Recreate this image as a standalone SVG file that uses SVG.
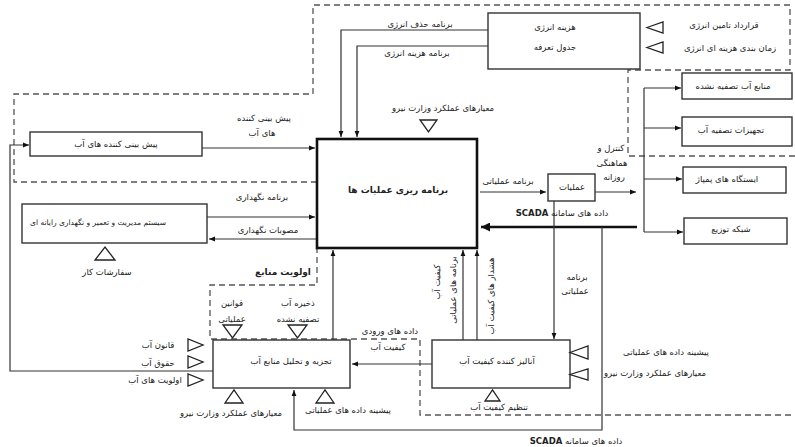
<svg xmlns="http://www.w3.org/2000/svg" width="795" height="447" viewBox="0 0 795 447">
<defs>
<marker id="ah" viewBox="0 0 10 10" refX="10" refY="5" markerWidth="6" markerHeight="6" orient="auto" markerUnits="userSpaceOnUse">
<path d="M0,1 L10,5 L0,9 Z" fill="#111"/>
</marker>
<marker id="ahb" viewBox="0 0 10 10" refX="10" refY="5" markerWidth="11" markerHeight="9" orient="auto" markerUnits="userSpaceOnUse">
<path d="M0,0 L10,5 L0,10 Z" fill="#111"/>
</marker>
<style>
text{font-family:"DejaVu Sans",sans-serif;font-size:8.5px;fill:#222;text-anchor:middle;direction:rtl}
.box{fill:#fff;stroke:#333;stroke-width:1.4}
.main{fill:#fff;stroke:#111;stroke-width:2.6}
.ln{fill:none;stroke:#333;stroke-width:1.2}
.thk{fill:none;stroke:#111;stroke-width:2.6}
.dash{fill:none;stroke:#555;stroke-width:1.3;stroke-dasharray:6 4}
.tri{fill:#fff;stroke:#222;stroke-width:1.3}
.b{font-weight:bold;font-size:9px}
.sm{font-size:7.5px}
.bs{font-weight:bold}
</style>
</defs>
<rect width="795" height="447" fill="#fff"/>
<g id="regions">
<path class="dash" d="M317,182 L14,182 L14,94 L313,94 L313,5 L790,5 L790,70 L628,70 L628,156 L795,156"/>
<path class="dash" d="M317,247 L317,285 L210,285 L210,339 L420,339 L420,415 L795,415"/>
</g>
<g id="connectors">
<path class="ln" d="M488,30 L341,30 L341,137" marker-end="url(#ah)"/>
<path class="ln" d="M488,46 L357,46 L357,137" marker-end="url(#ah)"/>
<path class="ln" d="M202,148 L315,148" marker-end="url(#ah)"/>
<path class="ln" d="M207,217 L315,217" marker-end="url(#ah)"/>
<path class="ln" d="M317,239 L209,239" marker-end="url(#ah)"/>
<path class="ln" d="M480,192 L546,192" marker-end="url(#ah)"/>
<path class="ln" d="M595,192 L636,192" marker-end="url(#ah)"/>
<path class="ln" d="M644,88 L644,232"/>
<path class="ln" d="M644,88 L681,88" marker-end="url(#ah)"/>
<path class="ln" d="M644,128 L681,128" marker-end="url(#ah)"/>
<path class="ln" d="M644,179 L682,179" marker-end="url(#ah)"/>
<path class="ln" d="M644,232 L683,232" marker-end="url(#ah)"/>
<path class="thk" d="M637,227 L481,227" marker-end="url(#ahb)"/>
<path class="ln" d="M602,227 L602,430 L294,430 L294,390" marker-end="url(#ah)"/>
<path class="ln" d="M554,201 L554,339" marker-end="url(#ah)"/>
<path class="ln" d="M463,340 L463,250" marker-end="url(#ah)"/>
<path class="ln" d="M477,340 L477,250" marker-end="url(#ah)"/>
<path class="ln" d="M333,340 L333,250" marker-end="url(#ah)"/>
<path class="ln" d="M432,364 L352,364" marker-end="url(#ah)"/>
<path class="ln" d="M213,371 L10,371 L10,145 L29,145" marker-end="url(#ah)"/>
</g>
<g id="n-planning">
<rect class="main" x="317" y="139" width="160" height="109"/>
<text class="b" x="398" y="193">برنامه ریزی عملیات ها</text>
</g>
<g id="n-energy">
<rect class="box" x="488" y="13" width="152" height="56"/>
<text x="555" y="30">هزینه انرژی</text>
<text x="555" y="50">جدول تعرفه</text>
</g>
<g id="n-forecast">
<rect class="box" x="30" y="132" width="172" height="24"/>
<text x="116" y="147">پیش بینی کننده های آب</text>
</g>
<g id="n-cmms">
<rect class="box" x="22" y="204" width="185" height="39"/>
<text class="sm" x="98" y="225">سیستم مدیریت و تعمیر و نگهداری رایانه ای</text>
</g>
<g id="n-ops">
<rect class="box" x="548" y="174" width="47" height="27"/>
<text x="572" y="190">عملیات</text>
</g>
<g id="n-raw">
<rect class="box" x="682" y="73" width="110" height="26"/>
<text x="733" y="89">منابع آب تصفیه نشده</text>
</g>
<g id="n-treat">
<rect class="box" x="682" y="117" width="110" height="29"/>
<text x="731" y="133">تجهیزات تصفیه آب</text>
</g>
<g id="n-pump">
<rect class="box" x="683" y="167" width="103" height="26"/>
<text x="727" y="182">ایستگاه های پمپاژ</text>
</g>
<g id="n-dist">
<rect class="box" x="684" y="218" width="103" height="26"/>
<text x="731" y="232">شبکه توزیع</text>
</g>
<g id="n-analysis">
<rect class="box" x="213" y="340" width="137" height="48"/>
<text x="291" y="364">تجزیه و تحلیل منابع آب</text>
</g>
<g id="n-quality">
<rect class="box" x="432" y="340" width="138" height="48"/>
<text x="497" y="364">آنالیز کننده کیفیت آب</text>
</g>
<g id="controls">
<polygon class="tri" points="647,27.5 663,22 663,33"/>
<polygon class="tri" points="647,47.5 663,42 663,53"/>
<polygon class="tri" points="420,120 437,120 428.5,132"/>
<polygon class="tri" points="95,260 115,260 105,247"/>
<polygon class="tri" points="188,339 188,351 203,345"/>
<polygon class="tri" points="188,356 188,368 203,362"/>
<polygon class="tri" points="188,374 188,386 203,380"/>
<polygon class="tri" points="223,325 242,325 232.5,338"/>
<polygon class="tri" points="288,325 307,325 297.5,338"/>
<polygon class="tri" points="225,403 243,403 234,390"/>
<polygon class="tri" points="316,403 334,403 325,390"/>
<polygon class="tri" points="570,352.5 588,346 588,359"/>
<polygon class="tri" points="570,374.5 588,369 588,380"/>
<polygon class="tri" points="485,401 500,401 492.5,390"/>
</g>
<g id="labels">
<text x="420" y="27">برنامه حذف انرژی</text>
<text x="417" y="56">برنامه هزینه انرژی</text>
<text x="724" y="28">قرارداد تامین انرژی</text>
<text x="730" y="51">زمان بندی هزینه ای انرژی</text>
<text x="443" y="111">معیارهای عملکرد وزارت نیرو</text>
<text x="264" y="121">پیش بینی کننده</text>
<text x="262" y="136">های آب</text>
<text x="262" y="200">برنامه نگهداری</text>
<text x="268" y="233">مصوبات نگهداری</text>
<text x="107" y="275">سفارشات کار</text>
<text class="b" x="283" y="275">اولویت منابع</text>
<text x="508" y="184">برنامه عملیاتی</text>
<text x="611" y="151">کنترل و</text>
<text x="612" y="166">هماهنگی</text>
<text x="614" y="180">روزانه</text>
<text x="562" y="216">داده های سامانه <tspan class="bs">SCADA</tspan></text>
<text x="577" y="280">برنامه</text>
<text x="575" y="294">عملیاتی</text>
<text transform="translate(440,282) rotate(-90)">کیفیت آب</text>
<text transform="translate(456,290) rotate(-90)">برنامه های عملیاتی</text>
<text transform="translate(494,296) rotate(-90)">هشدار های کیفیت آب</text>
<text x="390" y="334">داده های ورودی</text>
<text x="388" y="350">کیفیت آب</text>
<text x="232" y="306">قوانین</text>
<text x="232" y="322">عملیاتی</text>
<text x="298" y="306">ذخیره آب</text>
<text x="298" y="322">تصفیه نشده</text>
<text x="158" y="348">قانون آب</text>
<text x="158" y="366">حقوق آب</text>
<text x="155" y="383">اولویت های آب</text>
<text x="231" y="416">معیارهای عملکرد وزارت نیرو</text>
<text x="348" y="413">پیشینه داده های عملیاتی</text>
<text x="499" y="410">تنظیم کیفیت آب</text>
<text x="666" y="355">پیشینه داده های عملیاتی</text>
<text x="655" y="376">معیارهای عملکرد وزارت نیرو</text>
<text x="576" y="444">داده های سامانه <tspan class="bs">SCADA</tspan></text>
</g>
</svg>
